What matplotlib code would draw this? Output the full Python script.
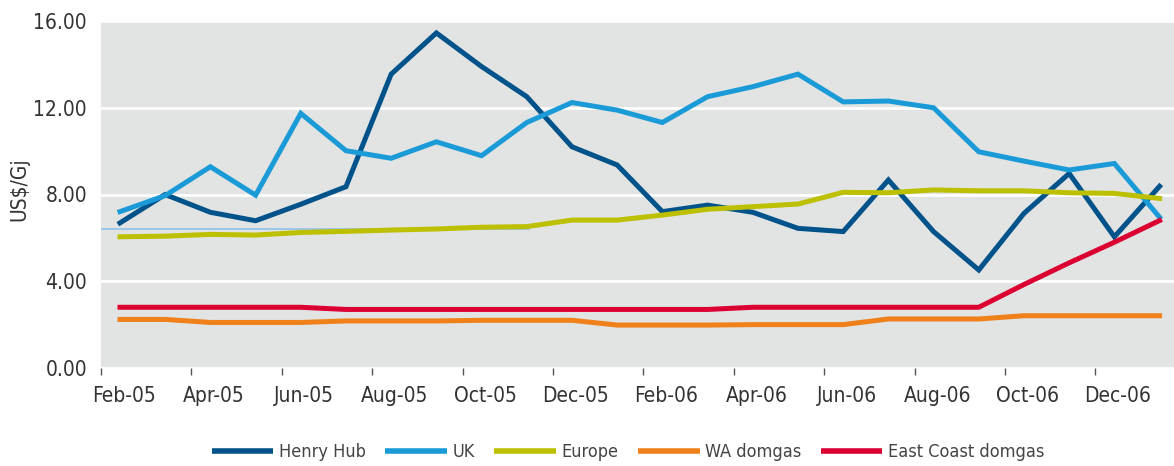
import numpy as np
import matplotlib.pyplot as plt

# monthly prices, Feb-05 .. Jan-07 (US$/Gj)
henry_hub = [6.69, 8.0, 7.18, 6.79, 7.55, 8.36, 13.55, 15.45, 13.9, 12.51, 10.2, 9.36,
             7.21, 7.51, 7.18, 6.44, 6.29, 8.67, 6.29, 4.52, 7.13, 8.97, 6.05, 8.38]
uk = [7.21, 7.95, 9.28, 7.97, 11.74, 10.02, 9.67, 10.43, 9.79, 11.32, 12.24, 11.89,
      11.32, 12.51, 12.97, 13.55, 12.27, 12.31, 12.0, 9.97, 9.54, 9.13, 9.43, 6.95]
europe = [6.05, 6.08, 6.16, 6.13, 6.25, 6.3, 6.36, 6.41, 6.49, 6.52, 6.82, 6.82,
          7.05, 7.32, 7.44, 7.56, 8.1, 8.08, 8.21, 8.17, 8.17, 8.08, 8.05, 7.82]
wa_domgas = [2.24, 2.24, 2.1, 2.1, 2.1, 2.17, 2.17, 2.17, 2.2, 2.2, 2.2, 1.98,
             1.98, 1.98, 2.0, 2.0, 2.0, 2.26, 2.26, 2.26, 2.41, 2.41, 2.41, 2.41]
east_coast = [2.8, 2.8, 2.8, 2.8, 2.8, 2.7, 2.7, 2.7, 2.7, 2.7, 2.7, 2.7,
              2.7, 2.7, 2.8, 2.8, 2.8, 2.8, 2.8, 2.8, 3.85, 4.85, 5.8, 6.8]
ref_level = 6.42   # faint reference line on the left

tick_labels = ["Feb-05", "Apr-05", "Jun-05", "Aug-05", "Oct-05", "Dec-05",
               "Feb-06", "Apr-06", "Jun-06", "Aug-06", "Oct-06", "Dec-06"]

series = [("Henry Hub", henry_hub, "#00538A"),
          ("UK", uk, "#1A9BD7"),
          ("Europe", europe, "#BDC000"),
          ("WA domgas", wa_domgas, "#F08019"),
          ("East Coast domgas", east_coast, "#DC0032")]

plt.rcParams['font.family'] = ['DejaVu Sans']
plt.rcParams['font.stretch'] = 'condensed'

fig = plt.figure(figsize=(11.74, 4.66), dpi=100)
ax = fig.add_axes([101/1174, 98/466, 1 - 101/1174, (368-21)/466])
ax.set_facecolor("#E2E3E3")

months = np.arange(len(henry_hub)) + 0.42
ax.hlines(ref_level, 0, 9.5, color="#9CC6E8", lw=1.4, zorder=2)
for name, vals, col in series:
    ax.plot(months, vals, color=col, lw=3.6, label=name, zorder=3,
            solid_joinstyle='miter')

ax.set_xlim(0, 1073/45.2)
ax.set_ylim(0, 16)
ax.set_yticks([0, 4, 8, 12, 16])
ax.set_yticklabels([f"{v:.2f}" for v in [0, 4, 8, 12, 16]])
ax.grid(axis='y', color='white', lw=2)
ax.set_axisbelow(True)

ax.set_xticks(np.arange(0, 24, 2))
ax.set_xticklabels([])
ax.set_xticks(np.arange(0, 24, 2) + 0.5, minor=True)
ax.set_xticklabels(tick_labels, minor=True)
ax.tick_params(axis='x', which='major', length=5, width=1, color='#555555', direction='out')
ax.tick_params(axis='x', which='minor', length=0, pad=13, labelsize=15, labelcolor='#333333')
ax.tick_params(axis='y', length=0, pad=10, labelsize=15, labelcolor='#333333')
for s in ax.spines.values():
    s.set_visible(False)

ax.set_ylabel("US$/Gj", fontsize=15, color='#333333')
ax.yaxis.set_label_coords(-0.067, 0.516)

leg = fig.legend(loc='center', bbox_to_anchor=(0.535, 0.03), ncol=5, frameon=False,
                 fontsize=13, handlelength=3.4, handletextpad=0.3, columnspacing=1.1)
for t in leg.get_texts():
    t.set_color('#444444')
for h in leg.get_lines():
    h.set_linewidth(4)
    h.set_solid_capstyle('butt')

fig.savefig("out.png", dpi=100)
